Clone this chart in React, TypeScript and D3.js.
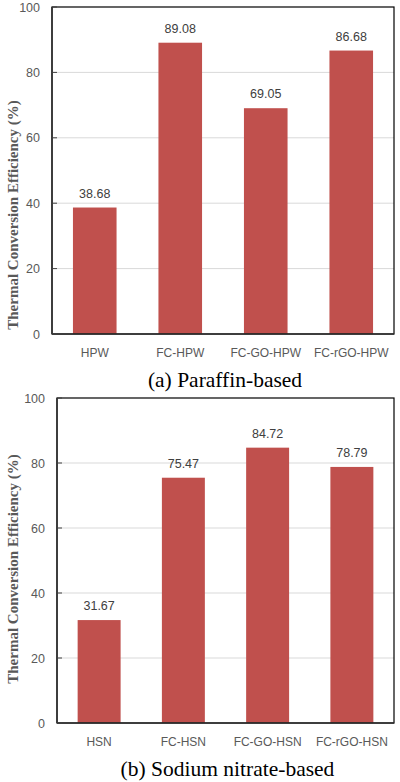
import React from "react";
import * as d3 from "d3";

const catsA = ["HPW", "FC-HPW", "FC-GO-HPW", "FC-rGO-HPW"];
const valsA = [38.68, 89.08, 69.05, 86.68];
const catsB = ["HSN", "FC-HSN", "FC-GO-HSN", "FC-rGO-HSN"];
const valsB = [31.67, 75.47, 84.72, 78.79];
const yTicks = [0, 20, 40, 60, 80, 100];
const yLabel = "Thermal Conversion Efficiency (%)";
const captionA = "(a) Paraffin-based";
const captionB = "(b) Sodium nitrate-based";

const BAR = "#C0504D";
const TXT = "#595959";
const SANS = "'Liberation Sans', Arial, sans-serif";
const SERIF = "'Liberation Serif', 'Times New Roman', serif";

type PanelProps = {
  cats: string[];
  vals: number[];
  left: number;
  right: number;
  top: number;
  bottom: number;
  labelY: number;
  caption: string;
  captionY: number;
};

function Panel({ cats, vals, left, right, top, bottom, labelY, caption, captionY }: PanelProps) {
  const y = d3.scaleLinear().domain([0, 100]).range([bottom, top]);
  const x = d3
    .scaleBand<string>()
    .domain(cats)
    .range([left, right])
    .paddingInner(0.49)
    .paddingOuter(0.245);
  return (
    <g>
      {yTicks.slice(1, -1).map((t) => (
        <line key={"g" + t} x1={left} x2={right} y1={y(t)} y2={y(t)} stroke="#D9D9D9" strokeWidth={1} />
      ))}
      {vals.map((v, i) => (
        <rect
          key={"b" + i}
          x={x(cats[i])}
          y={y(v)}
          width={x.bandwidth()}
          height={y(0) - y(v)}
          fill={BAR}
        />
      ))}
      <rect x={left} y={top} width={right - left} height={bottom - top} fill="none" stroke="#000" strokeWidth={1.2} />
      <line x1={left} x2={left} y1={top} y2={bottom} stroke="#303030" strokeWidth={1.5} />
      <line x1={left} x2={right} y1={bottom} y2={bottom} stroke="#303030" strokeWidth={1.5} />
      {yTicks.map((t) => (
        <g key={"t" + t}>
          <line x1={left} x2={left + 5} y1={y(t)} y2={y(t)} stroke="#404040" strokeWidth={1} />
          <text x={left - 12} y={y(t) + 4.5} textAnchor="end" fontSize={12.5} fill={TXT} fontFamily={SANS}>
            {t}
          </text>
        </g>
      ))}
      {vals.map((v, i) => (
        <text
          key={"v" + i}
          x={(x(cats[i]) as number) + x.bandwidth() / 2}
          y={y(v) - 10}
          textAnchor="middle"
          fontSize={12.5}
          fill="#404040"
          fontFamily={SANS}
        >
          {v.toFixed(2)}
        </text>
      ))}
      {cats.map((c) => (
        <text
          key={"c" + c}
          x={(x(c) as number) + x.bandwidth() / 2}
          y={bottom + 23}
          textAnchor="middle"
          fontSize={12}
          fill={TXT}
          fontFamily={SANS}
        >
          {c}
        </text>
      ))}
      <text
        transform={`translate(17.5,${labelY}) rotate(-90)`}
        textAnchor="middle"
        fontSize={15}
        fontWeight="bold"
        fill={TXT}
        fontFamily={SERIF}
      >
        {yLabel}
      </text>
      <text x={(left + right) / 2 + 2} y={captionY} textAnchor="middle" fontSize={21.5} fill="#000" fontFamily={SERIF}>
        {caption}
      </text>
    </g>
  );
}

export default function App() {
  return (
    <svg
      width={400}
      height={782}
      style={{ position: "absolute", left: 0, top: 0, background: "#fff" }}
    >
      <rect x={0} y={0} width={400} height={782} fill="#fff" />
      <Panel
        cats={catsA}
        vals={valsA}
        left={52}
        right={394}
        top={7}
        bottom={334}
        labelY={215}
        caption={captionA}
        captionY={386.5}
      />
      <Panel
        cats={catsB}
        vals={valsB}
        left={57}
        right={394}
        top={398}
        bottom={723}
        labelY={569}
        caption={captionB}
        captionY={775.5}
      />
    </svg>
  );
}
